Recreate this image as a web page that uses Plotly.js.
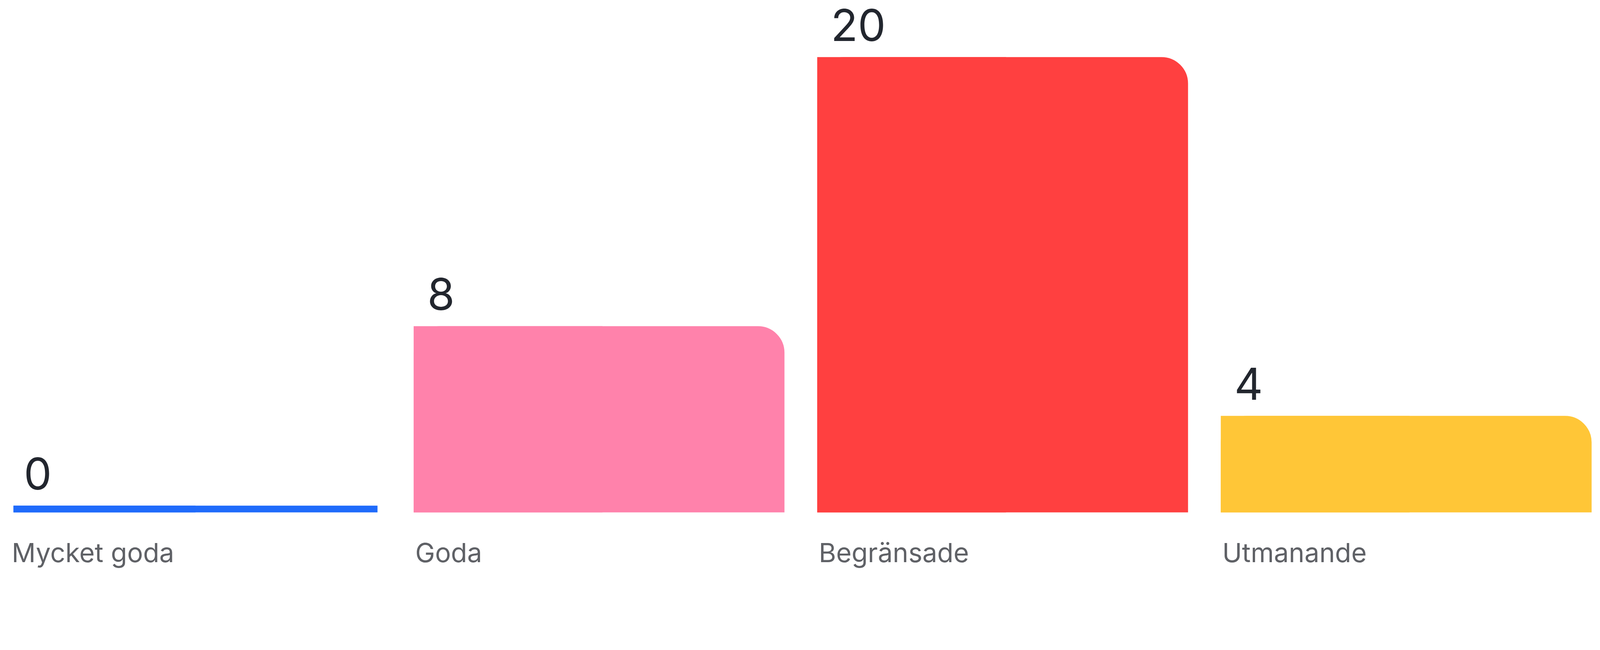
<!DOCTYPE html>
<html>
<head>
<meta charset="utf-8">
<script src="https://cdn.plot.ly/plotly-3.0.1.min.js"></script>
<style>html,body{margin:0;padding:0;background:#fff;overflow:hidden;}#chart{position:absolute;left:0;top:0;}</style>
</head>
<body>
<div id="chart"></div>
<script>
// Data
const categories = ['Mycket goda', 'Goda', 'Begränsade', 'Utmanande'];
const values = [0, 8, 20, 4];
const barColors = ['#1F6BFB', '#FF82AB', '#FF4040', '#FFC637'];

// Page scale (design made for a 4706 x 1665 canvas)
const W = window.innerWidth || 4706;
const H = window.innerHeight || 1665;
const s = W / 4706;
const Hd = H / s;             // height in design pixels

// Style constants (design pixels)
const BAR_W = 0.902;           // bar width in category units
const STROKE = 20;             // minimum bar thickness
const PITCH = 1187;            // px per category
const FIRST_CENTER = 575;      // px position of first category
const ZERO_Y = 1498;           // px position of value 0
const PX_PER_UNIT = 66;
const FONT = 'Inter, "Noto Sans", sans-serif';

const common = {
  type: 'bar',
  x: categories,
  y: values,
  hoverinfo: 'skip',
  showlegend: false
};

const traceMain = Object.assign({}, common, {
  width: BAR_W,
  offset: -BAR_W / 2,
  marker: {
    color: barColors,
    line: {color: barColors, width: STROKE * s},
    cornerradius: 68 * s
  }
});
const traceLeft = Object.assign({}, common, {
  width: BAR_W / 2,
  offset: -BAR_W / 2,
  marker: {
    color: barColors,
    line: {color: barColors, width: STROKE * s},
    cornerradius: 0
  }
});

const annotations = [];
categories.forEach((c, i) => {
  annotations.push({
    x: i - BAR_W / 2, y: values[i], xref: 'x', yref: 'y',
    text: String(values[i]), showarrow: false,
    xanchor: 'left', yanchor: 'bottom', xshift: 28 * s, yshift: 24 * s,
    font: {family: FONT, size: 130 * s, color: '#22262E'}
  });
  annotations.push({
    x: i - BAR_W / 2, y: 0, xref: 'x', yref: 'y',
    text: c, showarrow: false,
    xanchor: 'left', yanchor: 'top', xshift: -8 * s, yshift: -78 * s,
    font: {family: FONT, size: 78 * s, color: '#5F6166'}
  });
});

const x0 = -FIRST_CENTER / PITCH;
const yTop = ZERO_Y / PX_PER_UNIT;

const layout = {
  width: W, height: H,
  margin: {l: 0, r: 0, t: 0, b: 0, pad: 0},
  paper_bgcolor: '#ffffff', plot_bgcolor: '#ffffff',
  barmode: 'overlay',
  xaxis: {
    type: 'category',
    range: [x0, x0 + 4706 / PITCH],
    showgrid: false, zeroline: false, showline: false, showticklabels: false, ticks: ''
  },
  yaxis: {
    range: [yTop - Hd / PX_PER_UNIT, yTop],
    showgrid: false, zeroline: false, showline: false, showticklabels: false, ticks: ''
  },
  annotations: annotations,
  font: {family: FONT}
};

Plotly.newPlot('chart', [traceMain, traceLeft], layout, {staticPlot: true, displayModeBar: false});
</script>
</body>
</html>
